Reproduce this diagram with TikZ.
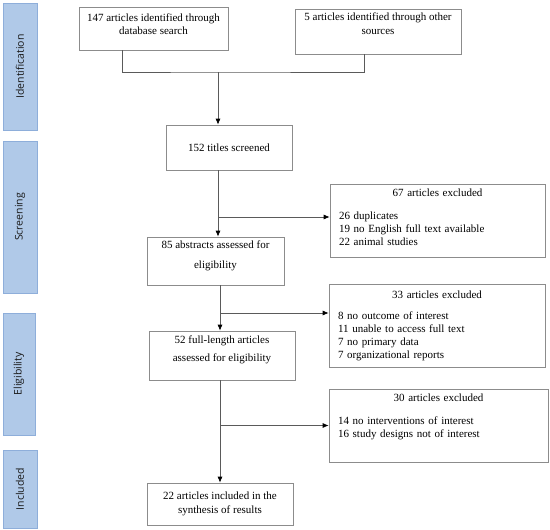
\documentclass[tikz,border=0pt]{standalone}
\usepackage{fontspec}
\setmainfont{Liberation Serif}
\newfontfamily\boxfont{Liberation Serif}
\newfontfamily\stagefont{Open Sans}
\usetikzlibrary{arrows.meta, calc, positioning}

\definecolor{stagefill}{HTML}{B0C9E8}
\definecolor{stageedge}{HTML}{8EAEDA}
\definecolor{boxedge}{HTML}{8C8C8C}
\definecolor{linecol}{HTML}{5A5A5A}

\newcommand{\exhead}[1]{\makebox[\hsize]{#1}}

\tikzset{
    box/.style={draw=boxedge, line width=0.7pt, inner sep=0pt, align=center, font=\boxfont\fontsize{11}{13}\selectfont},
    exbox/.style={draw=boxedge, line width=0.7pt, inner xsep=9pt, inner ysep=0pt, align=left, font=\boxfont\fontsize{11}{12.7}\selectfont},
    stage/.style={draw=stageedge, fill=stagefill, rotate=90, inner sep=0pt, text=black!90, font=\stagefont\fontsize{10.5}{12}\selectfont},
    joinline/.style={draw=linecol, line width=0.7pt},
    arrowline/.style={joinline, -{Latex[length=6pt, width=5pt, color=black]}},
}

\begin{document}
\begin{tikzpicture}[x=1pt, y=-1pt]
    \useasboundingbox (0,0) rectangle (550,530);

    % stages
    \node[stage, minimum width=127pt, minimum height=34pt] (ident) at (20,66.5) {Identification};
    \node[stage, minimum width=152pt, minimum height=34pt] (screen) at (20,217) {Screening};
    \node[stage, minimum width=122pt, minimum height=32pt] (elig) at (19,374) {Eligibility};
    \node[stage, minimum width=78pt, minimum height=34pt] (incl) at (20,489) {Included};

    % main column
    \node[box, minimum width=149pt, minimum height=43pt] (dbsearch) at (153.5,28.5) {147 articles identified through\\ database search\\[-4pt]\mbox{}};
    \node[box, minimum width=166pt, minimum height=45pt] (other) at (378,31.5) {5 articles identified through other\\[1pt] sources\\[3pt]\mbox{}};
    \node[box, minimum width=126pt, minimum height=45pt] (screened) at (229,147.5) {152 titles screened};
    \node[box, minimum width=137pt, minimum height=48pt] (abstracts) at (215.5,261) {85 abstracts assessed for\\[7pt] eligibility\\\mbox{}};
    \node[box, minimum width=146pt, minimum height=49pt] (fulltext) at (222,355.5) {52 full-length articles\\[5pt] assessed for eligibility\\[1pt]\mbox{}};
    \node[box, minimum width=146pt, minimum height=42pt] (included) at (220,504) {22 articles included in the\\[1pt] synthesis of results};

    % exclusions
    \node[exbox, text width=197pt, minimum height=73pt] (excla) at (437.5,220.5) {\exhead{67 articles excluded}\\[10pt]
        26 duplicates\\ 19 no English full text available\\ 22 animal studies\\[-6pt]\mbox{}};
    \node[exbox, text width=198pt, minimum height=83pt] (exclb) at (437,325.5) {\exhead{33 articles excluded}\\[9pt]
        8 no outcome of interest\\ 11 unable to access full text\\ 7 no primary data\\ 7 organizational reports};
    \node[exbox, text width=201pt, minimum height=73pt] (exclc) at (438.5,425.5) {\exhead{30 articles excluded}\\[10pt]
        14 no interventions of interest\\ 16 study designs not of interest\\[7pt]\mbox{}};

    \coordinate (merge) at (218,72);
    \coordinate (lane) at (220,300);

    \draw[joinline] ($(dbsearch.south)+(-31.5,0)$) |- (merge) -| ($(other.south)+(-14,0)$);
    \draw[arrowline] (merge) -- (merge |- screened.north);
    \draw[arrowline] (merge |- screened.south) -- (merge |- abstracts.north);
    \draw[arrowline] ($(merge |- excla.west)+(0,-3.5)$) -- ($(excla.west)+(0,-3.5)$);

    \draw[arrowline] (lane |- abstracts.south) -- (lane |- fulltext.north);
    \draw[arrowline] ($(lane |- exclb.west)+(0,-12.5)$) -- ($(exclb.west)+(0,-12.5)$);
    \draw[arrowline] (lane |- fulltext.south) -- (lane |- included.north);
    \draw[arrowline] (lane |- exclc.west) -- (exclc.west);
\end{tikzpicture}
\end{document}
